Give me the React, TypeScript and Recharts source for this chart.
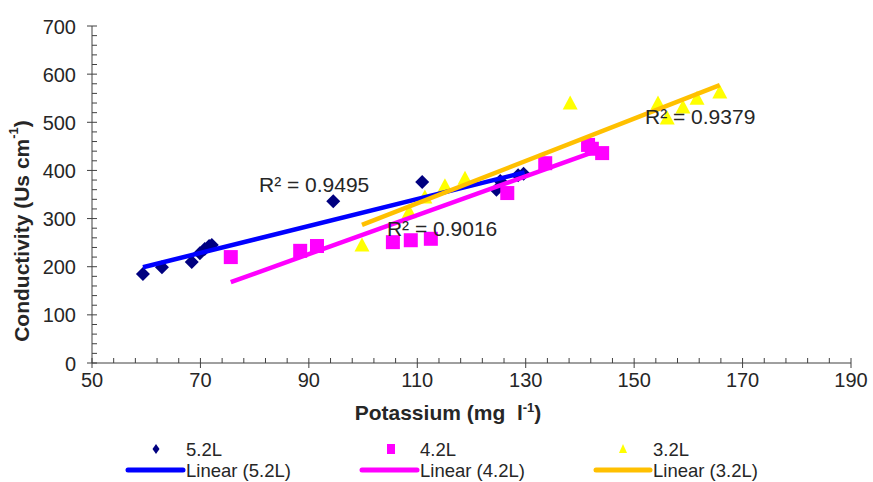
import React from "react";
import { ScatterChart, Scatter, XAxis, YAxis, ReferenceDot, Legend } from "recharts";

// ---- data ----
const k52 = [59.4, 62.9, 68.4, 69.9, 70.8, 71.6, 72.1, 94.5, 110.9, 124.6, 125.3, 128.6, 129.6];
const c52 = [185, 199, 210, 228, 237, 243, 245, 336, 376, 360, 378, 390, 393];

const k42 = [75.6, 88.4, 91.5, 105.5, 108.8, 112.5, 126.6, 133.6, 141.5, 142.2, 144.1];
const c42 = [220, 233, 243, 251, 255, 258, 353, 415, 453, 445, 436];

const k32 = [99.8, 108.5, 111.4, 115.1, 118.8, 138.2, 154.4, 156.1, 159.0, 161.6, 165.8];
const c32 = [245, 314, 345, 368, 384, 540, 540, 509, 532, 550, 563];

// trend line end points (as drawn)
const trend52K = [59.4, 129.8];
const trend52C = [199, 396];
const trend42K = [75.6, 144.1];
const trend42C = [168, 445];
const trend32K = [99.8, 165.8];
const trend32C = [287, 577];

const r2Texts = ["R² = 0.9495", "R² = 0.9016", "R² = 0.9379"];
const r2K = [80.8, 104.4, 152.0];
const r2C = [370, 280, 511];

const xMajor = [50, 70, 90, 110, 130, 150, 170, 190];
const yMajor = [0, 100, 200, 300, 400, 500, 600, 700];
const xMinorStep = 4;
const yMinorStep = 20;

const seriesNames = ["5.2L", "4.2L", "3.2L"];

// ---- helpers ----
const zip = (xs: number[], ys: number[]) => xs.map((x, i) => ({ x, y: ys[i] }));
const buildTicks = (min: number, max: number, step: number) => {
  const out: number[] = [];
  for (let v = min; v <= max + 1e-9; v += step) out.push(Math.round(v * 1000) / 1000);
  return out;
};

const FONT = '"Liberation Sans", Arial, sans-serif';
const TXT = "#262626";
const AXIS = "#404040";

const NAVY = "#000080";
const MAGENTA = "#FF00FF";
const YELLOW = "#FFFF00";
const BLUE_L = "#0000FF";
const MAG_L = "#FF00FF";
const YEL_L = "#FFC000";

const xTicks = buildTicks(xMajor[0], xMajor[xMajor.length - 1], xMinorStep);
const yTicks = buildTicks(yMajor[0], yMajor[yMajor.length - 1], yMinorStep);

const XTick = (props: any) => {
  const { x, y, payload } = props;
  const v = payload.value;
  const major = xMajor.includes(v);
  if (major) {
    return (
      <g>
        <line x1={x} x2={x} y1={y - 5} y2={y + 5} stroke={AXIS} strokeWidth={1} />
        <text x={x} y={y + 24} textAnchor="middle" fontFamily={FONT} fontSize={20} fill={TXT}>
          {v}
        </text>
      </g>
    );
  }
  return <line x1={x} x2={x} y1={y} y2={y - 5} stroke={AXIS} strokeWidth={1} />;
};

const YTick = (props: any) => {
  const { x, y, payload } = props;
  const v = payload.value;
  const major = yMajor.includes(v);
  if (major) {
    return (
      <g>
        <line x1={x - 5} x2={x + 5} y1={y} y2={y} stroke={AXIS} strokeWidth={1} />
        <text x={x - 16} y={y + 7.5} textAnchor="end" fontFamily={FONT} fontSize={20} fill={TXT}>
          {v}
        </text>
      </g>
    );
  }
  return <line x1={x} x2={x + 5} y1={y} y2={y} stroke={AXIS} strokeWidth={1} />;
};

const Diamond = (props: any) => {
  const { cx, cy } = props;
  const r = 7;
  return <path d={`M${cx},${cy - r}L${cx + r},${cy}L${cx},${cy + r}L${cx - r},${cy}Z`} fill={NAVY} />;
};
const Square = (props: any) => {
  const { cx, cy } = props;
  const s = 14;
  return <rect x={cx - s / 2} y={cy - s / 2} width={s} height={s} fill={MAGENTA} />;
};
const Triangle = (props: any) => {
  const { cx, cy } = props;
  const w = 15;
  const h = 13;
  return <path d={`M${cx},${cy - h / 2 - 1}L${cx + w / 2},${cy + h / 2}L${cx - w / 2},${cy + h / 2}Z`} fill={YELLOW} />;
};
const NoShape = () => <g />;

const YTitle = () => (
  <text
    x={21}
    y={231}
    transform="rotate(-90, 21, 231)"
    textAnchor="middle"
    dominantBaseline="central"
    fontFamily={FONT}
    fontSize={21}
    fontWeight="bold"
    fill={TXT}
  >
    Conductivity (Us cm<tspan dy={-8} fontSize={13}>-1</tspan>
    <tspan dy={8}>)</tspan>
  </text>
);

const XTitle = () => (
  <text x={448} y={420} textAnchor="middle" fontFamily={FONT} fontSize={21} fontWeight="bold" fill={TXT}>
    Potassium (mg{"\u00A0 "}l<tspan dy={-8} fontSize={13}>-1</tspan>
    <tspan dy={8}>)</tspan>
  </text>
);

const LegendContent = () => {
  const row1 = 449;
  const row2 = 470;
  const fs = 18.5;
  const base = 400;
  const items = [
    { mx: 156, tx: 186, lx1: 128, lx2: 183, mk: "d", col: NAVY, lc: BLUE_L },
    { mx: 391, tx: 420, lx1: 362, lx2: 417, mk: "s", col: MAGENTA, lc: MAG_L },
    { mx: 623, tx: 653, lx1: 596, lx2: 650, mk: "t", col: YELLOW, lc: YEL_L },
  ];
  return (
    <svg width={873} height={82} style={{ display: "block" }}>
      {items.map((it, i) => {
        const y1 = row1 - base;
        const y2 = row2 - base;
        let marker: any = null;
        if (it.mk === "d")
          marker = <path d={`M${it.mx},${y1 - 5}L${it.mx + 3.5},${y1}L${it.mx},${y1 + 5}L${it.mx - 3.5},${y1}Z`} fill={it.col} />;
        else if (it.mk === "s") marker = <rect x={it.mx - 4} y={y1 - 5} width={8} height={10} fill={it.col} />;
        else marker = <path d={`M${it.mx},${y1 - 5}L${it.mx + 4},${y1 + 4}L${it.mx - 4},${y1 + 4}Z`} fill={it.col} />;
        return (
          <g key={i}>
            {marker}
            <text x={it.tx} y={y1 + 6.5} fontFamily={FONT} fontSize={fs} fill={TXT}>
              {seriesNames[i]}
            </text>
            <line x1={it.lx1} x2={it.lx2} y1={y2} y2={y2} stroke={it.lc} strokeWidth={5} strokeLinecap="round" />
            <text x={it.tx} y={y2 + 6.5} fontFamily={FONT} fontSize={fs} fill={TXT}>
              {`Linear (${seriesNames[i]})`}
            </text>
          </g>
        );
      })}
    </svg>
  );
};

const R2Label = (text: string) => (props: any) => {
  const { cx, cy } = props;
  return (
    <text x={cx} y={cy + 7.5} fontFamily={FONT} fontSize={21} fill={TXT}>
      {text}
    </text>
  );
};

export default function App() {
  return (
    <div style={{ position: "absolute", left: 0, top: 0, width: 873, height: 482, background: "#fff" }}>
      <ScatterChart width={873} height={482} margin={{ top: 26, right: 22, left: 0, bottom: 0 }}>
        <XAxis
          type="number"
          dataKey="x"
          domain={[50, 190]}
          ticks={xTicks}
          interval={0}
          height={119}
          tickSize={0}
          tickMargin={0}
          tickLine={false}
          axisLine={{ stroke: AXIS, strokeWidth: 1 }}
          tick={<XTick />}
          allowDataOverflow
          label={XTitle}
        />
        <YAxis
          type="number"
          dataKey="y"
          domain={[0, 700]}
          ticks={yTicks}
          interval={0}
          width={92}
          tickSize={0}
          tickMargin={0}
          tickLine={false}
          axisLine={{ stroke: AXIS, strokeWidth: 1 }}
          tick={<YTick />}
          allowDataOverflow
          label={YTitle}
        />
        <Scatter name="5.2L" data={zip(k52, c52)} shape={Diamond} isAnimationActive={false} legendType="none" />
        <Scatter name="4.2L" data={zip(k42, c42)} shape={Square} isAnimationActive={false} legendType="none" />
        <Scatter name="3.2L" data={zip(k32, c32)} shape={Triangle} isAnimationActive={false} legendType="none" />
        <Scatter
          name="Linear (5.2L)"
          data={zip(trend52K, trend52C)}
          shape={NoShape}
          line={{ stroke: BLUE_L, strokeWidth: 4.5 }}
          lineType="joint"
          isAnimationActive={false}
          legendType="none"
        />
        <Scatter
          name="Linear (4.2L)"
          data={zip(trend42K, trend42C)}
          shape={NoShape}
          line={{ stroke: MAG_L, strokeWidth: 4.5 }}
          lineType="joint"
          isAnimationActive={false}
          legendType="none"
        />
        <Scatter
          name="Linear (3.2L)"
          data={zip(trend32K, trend32C)}
          shape={NoShape}
          line={{ stroke: YEL_L, strokeWidth: 4.5 }}
          lineType="joint"
          isAnimationActive={false}
          legendType="none"
        />
        {r2Texts.map((t, i) => (
          <ReferenceDot key={t} x={r2K[i]} y={r2C[i]} r={0} shape={R2Label(t)} ifOverflow="visible" />
        ))}
        <Legend
          layout="vertical"
          verticalAlign="middle"
          align="center"
          content={LegendContent}
          wrapperStyle={{ position: "absolute", left: 0, top: 400, width: 873, height: 82 }}
        />
      </ScatterChart>
    </div>
  );
}
